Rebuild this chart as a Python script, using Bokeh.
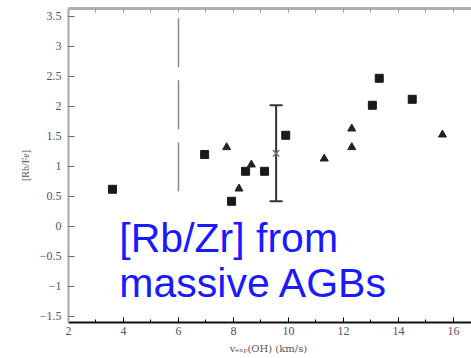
from bokeh.plotting import figure
from bokeh.models import (Range1d, LinearAxis, FixedTicker, Label, Whisker,
                          ColumnDataSource, TeeHead, CustomJSTickFormatter)
from bokeh.embed import file_html
from bokeh.resources import INLINE

# ---- data ----
sq_x = [3.6, 6.95, 7.93, 8.44, 9.13, 9.9, 13.05, 13.3, 14.5]
sq_y = [0.62, 1.2, 0.42, 0.92, 0.92, 1.52, 2.02, 2.47, 2.12]
tri_x = [7.75, 8.2, 8.65, 11.3, 12.3, 12.3, 15.6]
tri_y = [1.32, 0.63, 1.03, 1.13, 1.63, 1.32, 1.53]
ref_x = [9.55]
ref_y = [1.22]
ref_lo = [0.42]
ref_hi = [2.02]
lim_x = [6.0]
lim_lo = [0.57]
lim_hi = [3.47]
x_major = [2, 4, 6, 8, 10, 12, 14, 16]
x_minor = [3, 5, 7, 9, 11, 13, 15]
x_all = [2, 3, 4, 5, 6, 7, 8, 9, 10, 11, 12, 13, 14, 15, 16]
y_ticks = [-1.5, -1, -0.5, 0, 0.5, 1, 1.5, 2, 2.5, 3, 3.5]
annot_lines = ["[Rb/Zr] from", "massive AGBs"]
x_label = "v\u2091\u2093\u209a(OH)  (km/s)"
y_label = "[Rb/Fe]"

p = figure(width=471, height=358, output_backend="svg", toolbar_location=None,
           x_range=Range1d(2, 16.655), y_range=Range1d(-1.6, 3.633),
           min_border_left=68, min_border_right=0, min_border_top=8,
           min_border_bottom=36, x_axis_location=None, y_axis_location=None)
p.outline_line_color = None
p.xgrid.visible = False
p.ygrid.visible = False
p.background_fill_color = "white"
p.border_fill_color = "white"

tick_font = "Liberation Serif"

# left axis
ya = LinearAxis(ticker=FixedTicker(ticks=y_ticks),
                formatter=CustomJSTickFormatter(code="return String(tick).replace('-', '\u2212');"))
ya.axis_line_color = "#a8a8a8"
ya.axis_line_width = 2
ya.major_tick_in = 6
ya.major_tick_out = 0
ya.major_tick_line_color = "#666666"
ya.minor_tick_line_color = None
ya.major_label_text_font = tick_font
ya.major_label_text_font_size = "12px"
ya.major_label_text_color = "#555555"
ya.major_label_standoff = 7
ya.axis_label = y_label
ya.axis_label_text_font = tick_font
ya.axis_label_text_font_size = "10px"
ya.axis_label_text_font_style = "normal"
ya.axis_label_text_color = "#555555"
ya.axis_label_standoff = 6
p.add_layout(ya, "left")

# bottom axis
xa = LinearAxis(ticker=FixedTicker(ticks=x_major, minor_ticks=x_minor))
xa.axis_line_color = "#111111"
xa.axis_line_width = 2
xa.major_tick_in = 5
xa.major_tick_out = 0
xa.minor_tick_in = 3
xa.minor_tick_out = 0
xa.major_label_text_font = tick_font
xa.major_label_text_font_size = "12px"
xa.major_label_text_color = "#555555"
xa.major_label_standoff = 4
xa.axis_label = x_label
xa.axis_label_text_font = "DejaVu Serif"
xa.axis_label_text_font_size = "10px"
xa.axis_label_text_font_style = "normal"
xa.axis_label_text_color = "#555555"
xa.axis_label_standoff = 5
p.add_layout(xa, "below")

# top axis (tick marks only)
ta = LinearAxis(ticker=FixedTicker(ticks=x_all),
                formatter=CustomJSTickFormatter(code="return '';"))
ta.axis_line_color = "#b0b0b0"
ta.axis_line_width = 3
ta.major_tick_in = 4
ta.major_tick_out = 0
ta.major_tick_line_color = "#999999"
ta.minor_tick_line_color = None
ta.major_label_text_font_size = "1px"
ta.major_label_standoff = 0
p.add_layout(ta, "above")

# dashed vertical line at v=6
p.segment(x0=lim_x, y0=lim_hi, x1=lim_x, y1=lim_lo, line_color="#8a8a8a",
          line_width=1.5, line_dash="49 13")

# error bar with cross
src = ColumnDataSource(dict(x=ref_x, y=ref_y, lo=ref_lo, hi=ref_hi))
w = Whisker(base="x", upper="hi", lower="lo", source=src, dimension="height",
            line_color="#333333", line_width=2,
            upper_head=TeeHead(size=13, line_color="#333333", line_width=2),
            lower_head=TeeHead(size=13, line_color="#333333", line_width=2))
p.add_layout(w)
p.scatter(x="x", y="y", source=src, marker="x", size=9, line_color="#777777",
          line_width=1.5)

# markers
p.scatter(sq_x, sq_y, marker="square", size=8, fill_color="#1a1a1a",
          line_color="#1a1a1a")
p.scatter(tri_x, tri_y, marker="triangle", size=8, fill_color="#222222",
          line_color="#222222")

# annotation text
for i, t in enumerate(annot_lines):
    p.add_layout(Label(x=3.85, y=-0.2 - 0.75 * i, text=t, text_font="Liberation Sans",
                       text_font_size="41px", text_color="#1a1aff",
                       text_baseline="alphabetic", text_align="left"))

open("out.html", "w").write(file_html(p, INLINE))
